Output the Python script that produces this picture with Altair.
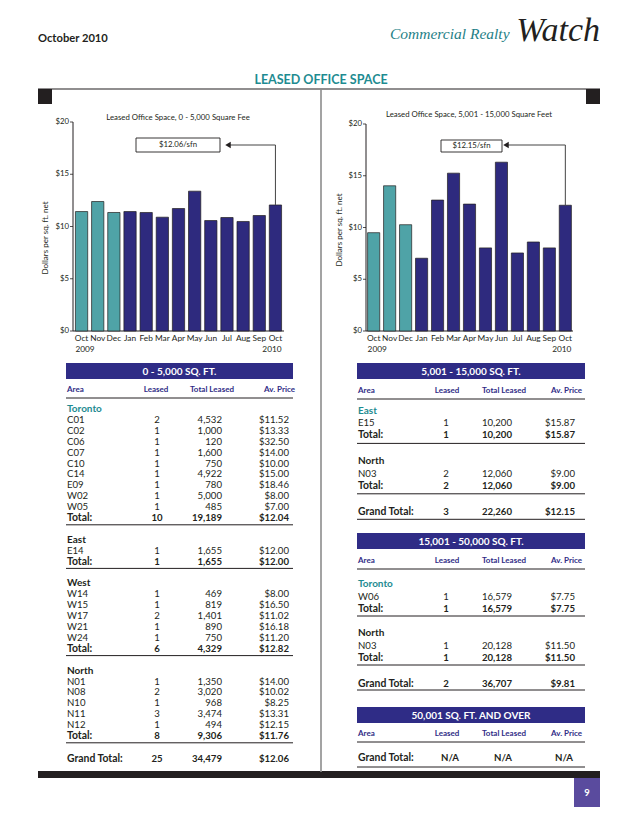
import altair as alt
import pandas as pd

# ---------------- values read from the page ----------------
months = ["Oct", "Nov", "Dec", "Jan", "Feb", "Mar", "Apr", "May", "Jun", "Jul", "Aug", "Sep", "Oct"]
month_year = ["2009", "2009", "2009"] + ["2010"] * 10
price_small = [11.43, 12.39, 11.34, 11.43, 11.34, 10.89, 11.72, 13.38, 10.57, 10.86, 10.48, 11.05, 12.06]
price_mid = [9.50, 14.03, 10.27, 7.03, 12.65, 15.25, 12.26, 8.03, 16.31, 7.54, 8.60, 8.03, 12.15]
dollar_ticks = [0, 5, 10, 15, 20]
dollar_labels = ["$0", "$5", "$10", "$15", "$20"]
title_small = "Leased Office Space,  0 - 5,000 Square Fee"
title_mid = "Leased Office Space, 5,001 - 15,000 Square Feet"
callout_small = "$12.06/sfn"
callout_mid = "$12.15/sfn"
y_title = "Dollars per sq. ft. net"

col_heads = ["Area", "Leased", "Total Leased", "Av. Price"]

# table: 0 - 5,000 sq. ft.
t1_title = "0 - 5,000 SQ. FT."
t1_toronto_area = ["C01", "C02", "C06", "C07", "C10", "C14", "E09", "W02", "W05"]
t1_toronto_leased = ["2", "1", "1", "1", "1", "1", "1", "1", "1"]
t1_toronto_total = ["4,532", "1,000", "120", "1,600", "750", "4,922", "780", "5,000", "485"]
t1_toronto_price = ["$11.52", "$13.33", "$32.50", "$14.00", "$10.00", "$15.00", "$18.46", "$8.00", "$7.00"]
t1_toronto_sum = ["10", "19,189", "$12.04"]
t1_east_area = ["E14"]
t1_east_leased = ["1"]
t1_east_total = ["1,655"]
t1_east_price = ["$12.00"]
t1_east_sum = ["1", "1,655", "$12.00"]
t1_west_area = ["W14", "W15", "W17", "W21", "W24"]
t1_west_leased = ["1", "1", "2", "1", "1"]
t1_west_total = ["469", "819", "1,401", "890", "750"]
t1_west_price = ["$8.00", "$16.50", "$11.02", "$16.18", "$11.20"]
t1_west_sum = ["6", "4,329", "$12.82"]
t1_north_area = ["N01", "N08", "N10", "N11", "N12"]
t1_north_leased = ["1", "2", "1", "3", "1"]
t1_north_total = ["1,350", "3,020", "968", "3,474", "494"]
t1_north_price = ["$14.00", "$10.02", "$8.25", "$13.31", "$12.15"]
t1_north_sum = ["8", "9,306", "$11.76"]
t1_grand = ["25", "34,479", "$12.06"]

# table: 5,001 - 15,000 sq. ft.
t2_title = "5,001 - 15,000 SQ. FT."
t2_east_area = ["E15"]
t2_east_leased = ["1"]
t2_east_total = ["10,200"]
t2_east_price = ["$15.87"]
t2_east_sum = ["1", "10,200", "$15.87"]
t2_north_area = ["N03"]
t2_north_leased = ["2"]
t2_north_total = ["12,060"]
t2_north_price = ["$9.00"]
t2_north_sum = ["2", "12,060", "$9.00"]
t2_grand = ["3", "22,260", "$12.15"]

# table: 15,001 - 50,000 sq. ft.
t3_title = "15,001 - 50,000 SQ. FT."
t3_toronto_area = ["W06"]
t3_toronto_leased = ["1"]
t3_toronto_total = ["16,579"]
t3_toronto_price = ["$7.75"]
t3_toronto_sum = ["1", "16,579", "$7.75"]
t3_north_area = ["N03"]
t3_north_leased = ["1"]
t3_north_total = ["20,128"]
t3_north_price = ["$11.50"]
t3_north_sum = ["1", "20,128", "$11.50"]
t3_grand = ["2", "36,707", "$9.81"]

# table: 50,001 sq. ft. and over
t4_title = "50,001 SQ. FT. AND OVER"
t4_grand = ["N/A", "N/A", "N/A"]

# ---------------- styling / layout ----------------
FONT = "Lato"
DARK = "#231f20"
TEAL = "#4fa3a7"
NAVY = "#2e2a7e"
HEAD = "#2f2c86"
TEAL_TXT = "#1e8b91"
GREY = "#8c8c8c"
PURPLE = "#5a4b9e"

OX, OY = 8, 8
W, H = 622, 810
PX = alt.Scale(domain=[OX, OX + W], range=[0, W], nice=False, zero=False)
PY = alt.Scale(domain=[OY, OY + H], range=[0, H], nice=False, zero=False)

texts, rects, boxes, hrules, vrules = [], [], [], [], []


def T(x, y, t, align="left", bold=False, size=9.6, color=DARK, font=FONT,
      angle=0, italic=False, baseline="middle"):
    texts.append({"x": x, "y": y, "t": t, "c": color,
                  "k": (align, bold, size, font, angle, italic, baseline)})


def HR(x, x2, y, w=1.0, c=DARK):
    hrules.append({"x": x, "x2": x2, "y": y, "w": w, "c": c})


def VR(x, y, y2, w=1.0, c=DARK):
    vrules.append({"x": x, "y": y, "y2": y2, "w": w, "c": c})


def R(x, x2, y, y2, c):
    rects.append({"x": x, "x2": x2, "y": y, "y2": y2, "c": c})


def BOX(x, x2, y, y2):
    boxes.append({"x": x, "x2": x2, "y": y, "y2": y2})


# page header and frame
T(38, 41.5, "October 2010", bold=True, size=11.2, baseline="alphabetic")
T(390, 39, "Commercial Realty", size=15.5, color="#1f7f87", font="Liberation Serif",
  italic=True, baseline="alphabetic")
T(600, 41, "Watch", align="right", size=34, font="Liberation Serif", italic=True,
  baseline="alphabetic")
T(321, 80, "LEASED OFFICE SPACE", align="center", bold=True, size=12.5, color=TEAL_TXT)
HR(38, 600, 89, 1.2)
R(38, 52, 89, 104, DARK)
R(586, 600, 89, 104, DARK)
VR(321, 89, 772, 1.6, GREY)
R(38, 600, 771, 778, DARK)
R(574, 600, 778, 807, PURPLE)
T(587, 793, "9", align="center", bold=True, size=9.5, color="white")


# ---------------- bar panels ----------------
def panel(values, ax, x1, y0, y20, pad_o, lab_x, arrow_y, head_x,
          title, tx, ty, ytx, yty, callout, box):
    VR(ax, y20, y0, 1.0)
    HR(ax, x1, y0, 1.0)
    T(tx, ty, title, align="center", size=7.8)
    T(ytx, yty, y_title, align="center", size=8, angle=270)
    BOX(*box)
    T((box[0] + box[1]) / 2, (box[2] + box[3]) / 2, callout, align="center", size=7.8)

    keys = ["m%02d" % i for i in range(len(values))]
    df = pd.DataFrame({"m": keys, "mon": months, "yr": month_year, "v": values})
    XS = alt.Scale(domain=keys, range=[ax - OX, x1 - OX], paddingInner=0.24, paddingOuter=pad_o)
    YS = alt.Scale(domain=[0, 20], range=[y0 - OY, y20 - OY], nice=False, zero=True)
    X = alt.X("m:N", scale=XS, axis=None)
    Y = alt.Y("v:Q", scale=YS, axis=None)

    bars = alt.Chart(df).mark_bar(stroke=DARK, strokeWidth=0.7).encode(
        x=X, y=Y,
        color=alt.Color("yr:N", scale=alt.Scale(domain=["2009", "2010"], range=[TEAL, NAVY]),
                        legend=None))
    mon = alt.Chart(df).mark_text(font=FONT, fontSize=8.3, color=DARK, baseline="middle").encode(
        x=X, y=alt.value(339 - OY), text="mon:N")
    yr_first = alt.Chart(df.iloc[[0]]).mark_text(
        font=FONT, fontSize=8.3, color=DARK, align="left", baseline="middle").encode(
        x=alt.X("m:N", scale=XS, axis=None, bandPosition=0), y=alt.value(350 - OY), text="yr:N")
    yr_last = alt.Chart(df.iloc[[-1]]).mark_text(
        font=FONT, fontSize=8.3, color=DARK, align="right", baseline="middle").encode(
        x=alt.X("m:N", scale=XS, axis=None, bandPosition=1), y=alt.value(350 - OY), text="yr:N")

    tk = pd.DataFrame({"v": dollar_ticks, "lab": dollar_labels})
    labs = alt.Chart(tk).mark_text(font=FONT, fontSize=7.8, color=DARK, align="right",
                                   baseline="middle").encode(
        x=alt.value(lab_x - OX), y=alt.Y("v:Q", scale=YS, axis=None), text="lab:N")
    ticks = alt.Chart(tk).mark_rule(color=DARK, strokeWidth=0.8).encode(
        x=alt.value(ax - OX - 3), x2=alt.value(ax - OX), y=alt.Y("v:Q", scale=YS, axis=None))

    top = (y0 - arrow_y) / (y0 - y20) * 20
    arr = df.iloc[[-1]].assign(top=top)
    vline = alt.Chart(arr).mark_rule(color="#444444", strokeWidth=1).encode(
        x=alt.X("m:N", scale=XS, axis=None, bandPosition=0.5),
        y=alt.Y("top:Q", scale=YS, axis=None), y2="v:Q")
    hline = alt.Chart(arr).mark_rule(color="#444444", strokeWidth=1).encode(
        x=alt.X("m:N", scale=XS, axis=None, bandPosition=0.5),
        x2=alt.value(head_x - OX),
        y=alt.Y("top:Q", scale=YS, axis=None))
    head = alt.Chart(arr).mark_point(shape="triangle-left", filled=True, size=40,
                                     color=DARK, opacity=1).encode(
        x=alt.value(head_x - OX), y=alt.Y("top:Q", scale=YS, axis=None))
    return alt.layer(bars, mon, yr_first, yr_last, labs, ticks, vline, hline, head)


left_panel = panel(price_small, 73, 284, 331, 122, 0.15, 69, 145, 228,
                   title_small, 178, 118, 46, 238, callout_small, (136, 220, 138, 152))
right_panel = panel(price_mid, 366, 573, 331, 124, 0.1, 362, 145, 506,
                    title_mid, 469, 115, 340, 230, callout_mid, (441, 502, 140, 152))


# ---------------- tables ----------------
LBL = 10.4  # size of the bold "Total:" labels


def table(xl, xr, ybar, title, sections, grand, P):
    R(xl, xr, ybar, ybar + 16, HEAD)
    T((xl + xr) / 2, ybar + 8.5, title, align="center", bold=True, size=10, color="white")
    hy = ybar + P["hdr"]
    T(P["area"], hy, col_heads[0], bold=True, size=8, color=HEAD)
    T(P["h_leased"], hy, col_heads[1], align="center", bold=True, size=8, color=HEAD)
    T(P["h_total"], hy, col_heads[2], align="center", bold=True, size=8, color=HEAD)
    T(P["h_price"], hy, col_heads[3], align="right", bold=True, size=8, color=HEAD)
    ly = hy + 8
    HR(xl, xr, ly, 1.0)
    y = ly + P.get("first", 0)
    for i, (name, areas, leased, totals, prices, s) in enumerate(sections):
        T(P["area"], y, name, bold=True, size=10, color=TEAL_TXT if i == 0 else DARK)
        for a, l, t, p in zip(areas, leased, totals, prices):
            y += P["step"]
            T(P["area"], y, a)
            T(P["leased"], y, l, align="center")
            T(P["total"], y, t, align="right")
            T(P["price"], y, p, align="right")
        y += P["step"]
        T(P["area"], y, "Total:", bold=True, size=LBL)
        T(P["leased"], y, s[0], align="center", bold=True)
        T(P["total"], y, s[1], align="right", bold=True)
        T(P["price"], y, s[2], align="right", bold=True)
        ly = y + P["line"]
        HR(xl, xr, ly, 1.0)
        y = ly + P["gap"]
    gy = ly + P["grand"]
    T(P["area"], gy, "Grand Total:", bold=True, size=LBL)
    if P.get("na"):
        for gx, g in zip(P["na"], grand):
            T(gx, gy, g, align="center", bold=True)
    else:
        T(P["leased"], gy, grand[0], align="center", bold=True)
        T(P["total"], gy, grand[1], align="right", bold=True)
        T(P["price"], gy, grand[2], align="right", bold=True)
    if P.get("gline"):
        HR(xl, xr, gy + P["gline"], 1.0)


LEFT_COLS = dict(area=67, leased=157, total=222, price=289, h_leased=156, h_total=212, h_price=295)
RIGHT_COLS = dict(area=358, leased=446, total=512, price=575, h_leased=447, h_total=504, h_price=582)

table(66, 293, 363, t1_title, [
    ("Toronto", t1_toronto_area, t1_toronto_leased, t1_toronto_total, t1_toronto_price, t1_toronto_sum),
    ("East", t1_east_area, t1_east_leased, t1_east_total, t1_east_price, t1_east_sum),
    ("West", t1_west_area, t1_west_leased, t1_west_total, t1_west_price, t1_west_sum),
    ("North", t1_north_area, t1_north_leased, t1_north_total, t1_north_price, t1_north_sum),
], t1_grand, dict(LEFT_COLS, hdr=27, step=10.9, first=11, line=6.8, gap=15, grand=16))

table(357, 585, 363, t2_title, [
    ("East", t2_east_area, t2_east_leased, t2_east_total, t2_east_price, t2_east_sum),
    ("North", t2_north_area, t2_north_leased, t2_north_total, t2_north_price, t2_north_sum),
], t2_grand, dict(RIGHT_COLS, hdr=28, step=12.2, first=12, line=8, gap=18, grand=18.5, gline=7))

table(357, 585, 533, t3_title, [
    ("Toronto", t3_toronto_area, t3_toronto_leased, t3_toronto_total, t3_toronto_price, t3_toronto_sum),
    ("North", t3_north_area, t3_north_leased, t3_north_total, t3_north_price, t3_north_sum),
], t3_grand, dict(RIGHT_COLS, hdr=28, step=12.5, first=15, line=7, gap=17, grand=19, gline=6))

table(357, 585, 707, t4_title, [], t4_grand,
      dict(RIGHT_COLS, hdr=27, grand=16, gline=9, na=[450, 503, 564]))

# ---------------- page layers ----------------
PXE = alt.X("x:Q", scale=PX, axis=None)
PYE = alt.Y("y:Q", scale=PY, axis=None)
CNONE = alt.Color("c:N", scale=None)

page_layers = [
    alt.Chart(pd.DataFrame(rects)).mark_rect().encode(x=PXE, x2="x2:Q", y=PYE, y2="y2:Q", color=CNONE),
    alt.Chart(pd.DataFrame(boxes)).mark_rect(fill="white", stroke=DARK, strokeWidth=0.9).encode(
        x=PXE, x2="x2:Q", y=PYE, y2="y2:Q"),
    alt.Chart(pd.DataFrame(hrules)).mark_rule().encode(
        x=PXE, x2="x2:Q", y=PYE, color=CNONE, strokeWidth=alt.StrokeWidth("w:Q", scale=None)),
    alt.Chart(pd.DataFrame(vrules)).mark_rule().encode(
        x=PXE, y=PYE, y2="y2:Q", color=CNONE, strokeWidth=alt.StrokeWidth("w:Q", scale=None)),
]

groups = {}
for d in texts:
    groups.setdefault(d["k"], []).append({k: d[k] for k in ("x", "y", "t", "c")})
for (align, bold, size, font, angle, italic, baseline), rows in groups.items():
    page_layers.append(
        alt.Chart(pd.DataFrame(rows)).mark_text(
            align=align, baseline=baseline, font=font, fontSize=size,
            fontWeight="bold" if bold else "normal",
            fontStyle="italic" if italic else "normal", angle=angle,
        ).encode(x=PXE, y=PYE, text="t:N", color=CNONE)
    )

page = alt.layer(*page_layers)

chart = alt.layer(page, left_panel, right_panel).resolve_scale(
    x="independent", y="independent"
).properties(
    width=W, height=H, padding=0, autosize=alt.AutoSizeParams(type="none"),
    background="white",
).configure_view(stroke=None)

chart.save("out.html", embed_options={"renderer": "svg", "actions": False})
